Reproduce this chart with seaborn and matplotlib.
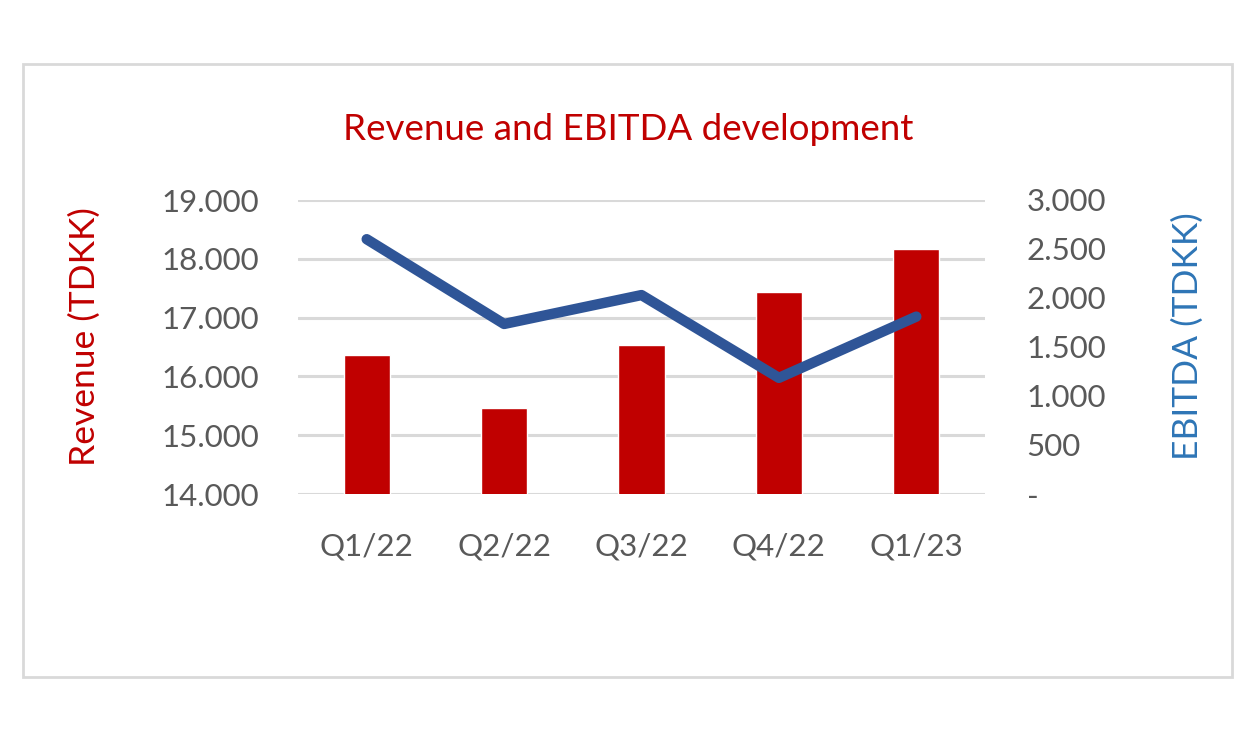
import numpy as np
import pandas as pd
import matplotlib
matplotlib.use("Agg")
import matplotlib.pyplot as plt
import seaborn as sns
from matplotlib.patches import Rectangle
from matplotlib.ticker import FuncFormatter

# --- data ---
quarters = ["Q1/22", "Q2/22", "Q3/22", "Q4/22", "Q1/23"]
revenue = [16370, 15470, 16530, 17440, 18160]
ebitda = [2600, 1735, 2030, 1185, 1810]

RED = "#C00000"
BLUE_LINE = "#2F5597"
BLUE_TXT = "#2E75B6"
GREY_TXT = "#595959"
GRID = "#D9D9D9"

sns.set_style("white")
plt.rcParams['font.family'] = ['Lato', 'DejaVu Sans']

df = pd.DataFrame({"quarter": quarters, "revenue": revenue, "ebitda": ebitda})


def dot_thousands(v, pos=None):
    # 0 wird als "-" angezeigt, Tausender mit Punkt
    if v == 0:
        return "-"
    return f"{int(round(v)):,}".replace(",", ".")


fig = plt.figure(figsize=(12.57, 7.40), dpi=100)
# outer frame
fig.patches.append(Rectangle((23 / 1257, 63 / 740), 1209 / 1257, 613 / 740,
                             transform=fig.transFigure, fill=False,
                             edgecolor=GRID, linewidth=2))

ax = fig.add_axes([298 / 1257, 246 / 740, 687 / 1257, 294 / 740])
ax.set_axisbelow(True)
ax.yaxis.grid(True, color=GRID, linewidth=2.2)
sns.barplot(data=df, x="quarter", y="revenue", color=RED, width=0.335,
            saturation=1, ax=ax)
ax.set_ylim(14000, 19000)
ax.set_yticks(np.arange(14000, 19001, 1000))
ax.yaxis.set_major_formatter(FuncFormatter(dot_thousands))
ax.set_xlim(-0.5, 4.5)
ax.set_xlabel("")
ax.set_ylabel("Revenue (TDKK)", color=RED, fontsize=25.5)
ax.yaxis.label.set_va("center")
ax.yaxis.set_label_coords(-0.310, 0.536)
ax.tick_params(axis="y", length=0, pad=28, labelsize=22.5, labelcolor=GREY_TXT)
ax.tick_params(axis="x", length=0, pad=28, labelsize=22.5, labelcolor=GREY_TXT)
for s in ax.spines.values():
    s.set_visible(False)

ax2 = ax.twinx()
sns.lineplot(x=np.arange(len(quarters)), y=ebitda, color=BLUE_LINE,
             linewidth=7.5, ax=ax2, solid_capstyle="round",
             solid_joinstyle="round")
ax2.set_ylim(0, 3000)
ax2.set_yticks(np.arange(0, 3001, 500))
ax2.yaxis.set_major_formatter(FuncFormatter(dot_thousands))
ax2.set_ylabel("EBITDA (TDKK)", color=BLUE_TXT, fontsize=25.5, rotation=90)
ax2.yaxis.label.set_va("center")
ax2.yaxis.set_label_coords(1.2955, 0.537)
ax2.tick_params(axis="y", length=0, pad=30, labelsize=22.5, labelcolor=GREY_TXT)
ax2.grid(False)
for s in ax2.spines.values():
    s.set_visible(False)
ax.set_xlim(-0.5, 4.5)

fig.text(628 / 1257, 1 - 130 / 740, "Revenue and EBITDA development",
         color=RED, fontsize=26.5, ha="center", va="center")

fig.savefig("out.png", dpi=100, facecolor="white")
